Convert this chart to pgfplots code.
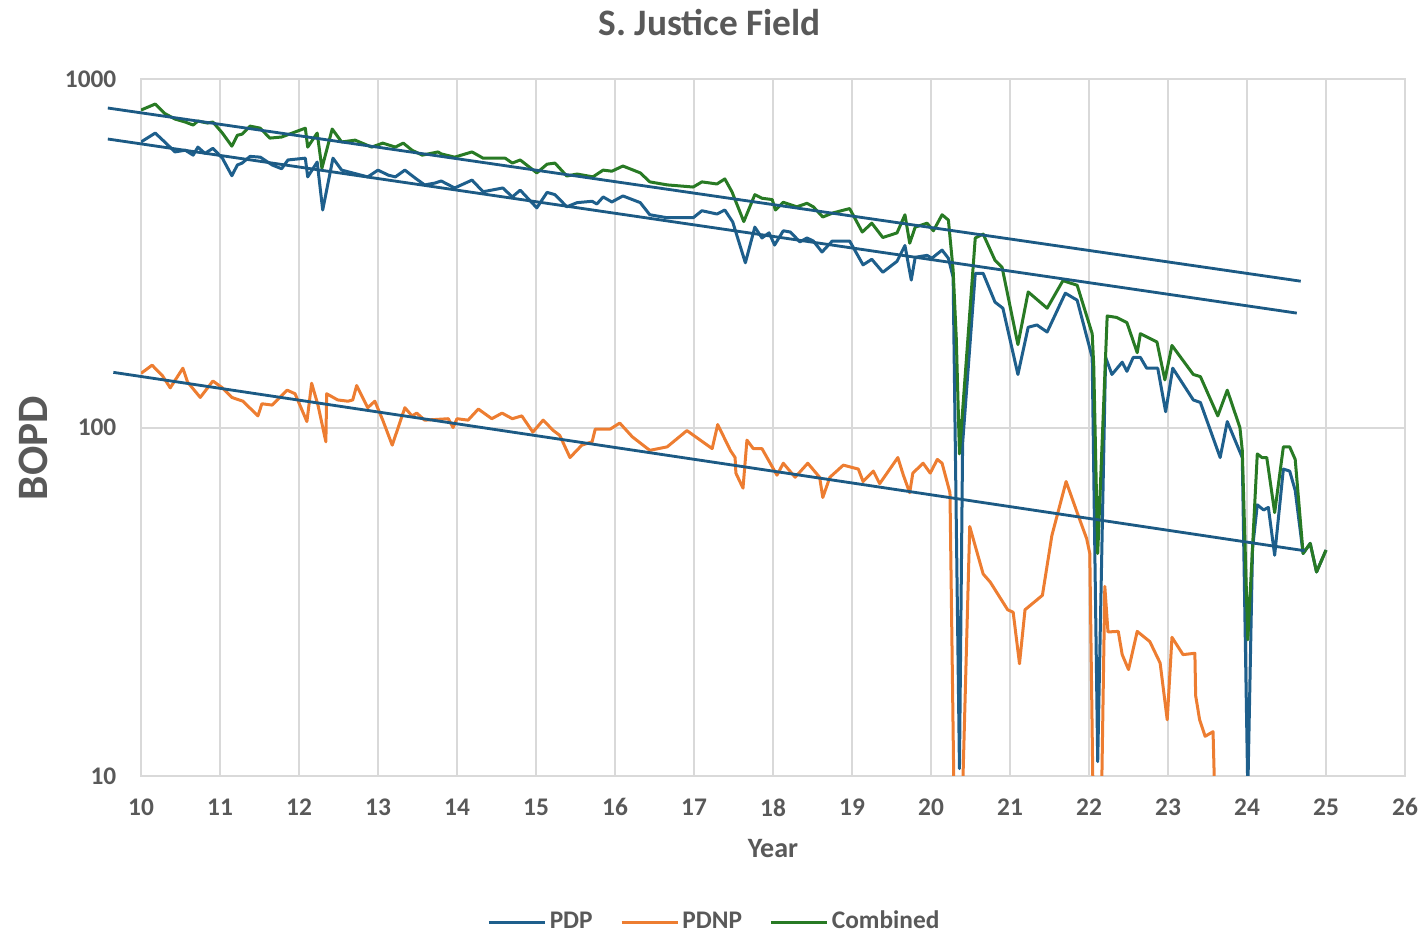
\documentclass[border=0pt]{standalone}
\usepackage{pgfplots}
\pgfplotsset{compat=1.18}
\usepackage{fontspec}
\setmainfont{Carlito}

\definecolor{pdp}{RGB}{30,95,140}
\definecolor{pdnp}{RGB}{237,125,49}
\definecolor{comb}{RGB}{40,122,36}
\definecolor{trend}{RGB}{28,90,132}
\definecolor{txt}{RGB}{89,89,89}
\definecolor{gridc}{RGB}{217,217,217}

% Monthly oil rates, BOPD
\pgfplotstableread{
x y
10.00 660
10.18 700
10.30 660
10.43 618
10.56 625
10.66 605
10.72 638
10.81 612
10.91 633
11.03 593
11.15 528
11.22 567
11.28 574
11.38 600
11.51 597
11.66 567
11.78 553
11.86 586
12.08 593
12.11 524
12.23 578
12.30 421
12.43 593
12.54 548
12.87 524
13.00 548
13.13 530
13.22 524
13.34 548
13.47 520
13.59 497
13.72 503
13.80 510
13.97 487
14.19 513
14.33 475
14.58 487
14.70 459
14.80 480
15.01 427
15.14 473
15.24 466
15.39 430
15.52 442
15.71 446
15.77 438
15.85 459
15.96 444
16.10 462
16.32 442
16.44 408
16.66 400
16.99 400
17.10 419
17.29 410
17.39 421
17.49 389
17.65 297
17.77 376
17.86 350
17.95 362
18.02 334
18.13 367
18.22 364
18.34 341
18.43 350
18.51 343
18.62 319
18.75 343
18.97 343
19.14 293
19.25 304
19.39 279
19.57 300
19.67 333
19.75 265
19.80 308
19.95 312
20.01 306
20.14 323
20.22 306
20.28 270
20.36 10.5
20.40 90
20.56 277
20.66 277
20.81 229
20.91 220
21.10 142
21.23 194
21.34 197
21.47 188
21.70 243
21.85 232
22.04 159
22.11 11
22.21 159
22.29 142
22.42 154
22.48 145
22.56 159
22.65 159
22.73 148
22.87 148
22.97 111
23.06 148
23.32 120
23.41 118
23.66 82
23.75 104
23.94 82
24.01 9
24.07 45
24.13 60
24.21 58
24.27 59
24.35 43
24.46 76
24.54 75
24.61 66
24.71 43.5
24.80 46.5
24.88 38.5
25.00 44.5
}\pdptable

\pgfplotstableread{
x y
10.00 143
10.14 151
10.27 141
10.37 130
10.53 148
10.59 135
10.75 122
10.91 136
11.03 130
11.15 122
11.29 119
11.48 108
11.53 117
11.66 116
11.85 128
11.95 125
12.10 104
12.16 134
12.24 116
12.34 91
12.35 125
12.49 120
12.62 119
12.68 120
12.73 132
12.87 114
12.96 119
13.06 105
13.18 89
13.34 114
13.43 108
13.49 110
13.59 105
13.89 106
13.95 100
14.00 106
14.14 105
14.27 113
14.44 106
14.57 110
14.70 106
14.82 108
14.96 97
15.09 105
15.22 98
15.30 95
15.43 82
15.58 89
15.71 91
15.75 99
15.94 99
16.06 103
16.22 94
16.44 86
16.66 88
16.91 98
17.23 87
17.30 102
17.46 86
17.52 82
17.53 74
17.62 67
17.67 92
17.75 87
17.86 87
18.05 73
18.13 79
18.28 72
18.44 79
18.59 72
18.63 63
18.72 72
18.89 78
19.08 76
19.14 70
19.27 75
19.35 69
19.58 82
19.65 73
19.73 65
19.77 74
19.90 79
19.99 74
20.08 81
20.14 79
20.24 65
20.29 9
20.40 9
20.49 52
20.66 38
20.75 36
20.97 30
21.04 29.5
21.12 21
21.19 30
21.41 33
21.53 49
21.71 70
21.85 57
21.97 48
22.01 43.5
22.05 9
22.16 9
22.20 35
22.24 25.9
22.37 26
22.42 22.3
22.50 20.2
22.61 26
22.77 24.3
22.90 21.1
22.99 14.5
23.05 25
23.19 22.3
23.34 22.5
23.35 17
23.40 14.5
23.47 13
23.57 13.4
23.59 9
}\pdnptable

\pgfplotstableread{
x y
10.00 815
10.18 848
10.30 797
10.43 768
10.56 753
10.66 738
10.72 758
10.84 748
10.91 753
11.03 700
11.15 642
11.22 690
11.28 695
11.38 733
11.51 723
11.63 677
11.78 682
11.95 705
12.08 723
12.11 638
12.23 700
12.29 555
12.42 719
12.54 660
12.71 668
12.92 638
13.06 655
13.22 638
13.32 655
13.43 625
13.56 605
13.76 618
13.80 610
13.97 597
14.19 618
14.33 593
14.61 593
14.70 574
14.80 586
15.01 538
15.14 570
15.24 574
15.39 527
15.52 534
15.72 524
15.85 548
15.96 544
16.10 563
16.32 538
16.44 507
16.66 497
16.99 490
17.10 507
17.29 500
17.39 517
17.48 475
17.63 390
17.77 466
17.86 455
17.99 451
18.03 421
18.13 443
18.30 430
18.43 440
18.51 430
18.63 402
18.76 413
18.97 425
19.13 364
19.25 386
19.39 351
19.57 362
19.67 408
19.73 338
19.80 376
19.95 386
20.03 367
20.14 408
20.22 394
20.28 283
20.32 180
20.36 84
20.56 350
20.66 359
20.81 302
20.90 288
21.10 173
21.23 245
21.47 220
21.67 264
21.85 256
22.04 186
22.06 150
22.11 43.5
22.23 209
22.35 207
22.48 200
22.61 164
22.65 186
22.86 176
22.96 137
23.05 172
23.32 142
23.41 140
23.63 108
23.75 128
23.91 100
23.94 86
24.01 24.6
24.13 84
24.19 82
24.25 82
24.35 57
24.46 88
24.54 88
24.61 81
24.71 43.5
24.80 46.5
24.88 38.5
25.00 44.5
}\combtable

\begin{document}
\begin{tikzpicture}[font=\bfseries, text=txt]
\path[use as bounding box] (-42.27pt,-48.26pt) rectangle (383.69pt,232.61pt);

\begin{axis}[
  scale only axis,
  width=378.9pt, height=208.9pt,
  xmin=10, xmax=26,
  ymode=log, log basis y=10,
  ymin=10, ymax=1000,
  xtick={10,11,...,26},
  ytick={10,100,1000},
  yticklabels={10,100,1000},
  yminorticks=false,
  major tick length=0pt,
  grid=major,
  major grid style={draw=gridc, line width=0.6pt},
  axis line style={draw=gridc, line width=0.6pt},
  /pgf/number format/assume math mode=true,
  ticklabel style={font=\fontsize{7.6}{9}\bfseries, text=txt},
  xticklabel style={anchor=north, inner sep=0pt, yshift=-6.6pt},
  yticklabel style={anchor=east, inner sep=0pt, xshift=-7.2pt},
  every axis title shift=0pt,
  title={S. Justice Field},
  title style={at={(0.4500,1.0818)}, anchor=center, font=\fontsize{11.2}{13}\bfseries, text=txt},
  xlabel={Year},
  xlabel style={at={(0.5,-0.1034)}, anchor=center, font=\fontsize{8.4}{10}\bfseries, text=txt},
  ylabel={BOPD},
  ylabel style={at={(-0.0855,0.4706)}, anchor=center, font=\fontsize{13}{15}\bfseries, text=txt},
  legend columns=3,
  legend style={at={(0.4536,-0.2100)}, anchor=center, draw=none, fill=none,
    font=\fontsize{7.6}{9}\bfseries, text=txt,
    nodes={inner sep=0.6pt},
    /tikz/every even column/.append style={column sep=7.6pt},
    /tikz/every odd column/.append style={column sep=0.4pt}},
  legend cell align=left,
  legend image code/.code={\draw[#1] (0pt,0pt) -- (16.8pt,0pt);},
  every axis plot/.append style={line width=0.9pt, line join=round},
]
\addplot[pdp, no marks] table[x=x, y=y] {\pdptable};
\addlegendentry{PDP}
\addplot[pdnp, no marks] table[x=x, y=y] {\pdnptable};
\addlegendentry{PDNP}
\addplot[comb, no marks] table[x=x, y=y] {\combtable};
\addlegendentry{Combined}
\end{axis}

% exponential trend lines, extended slightly back past the first year
\begin{axis}[
  scale only axis,
  width=378.9pt, height=208.9pt,
  xmin=10, xmax=26,
  ymode=log, log basis y=10,
  ymin=10, ymax=1000,
  hide axis, clip=false,
]
\addplot[trend, line width=0.85pt, no marks] coordinates {(9.58,826) (24.68,263)};
\addplot[trend, line width=0.85pt, no marks] coordinates {(9.58,673) (24.63,213)};
\addplot[trend, line width=0.85pt, no marks] coordinates {(9.65,144) (24.73,44.3)};
\end{axis}
\end{tikzpicture}
\end{document}
